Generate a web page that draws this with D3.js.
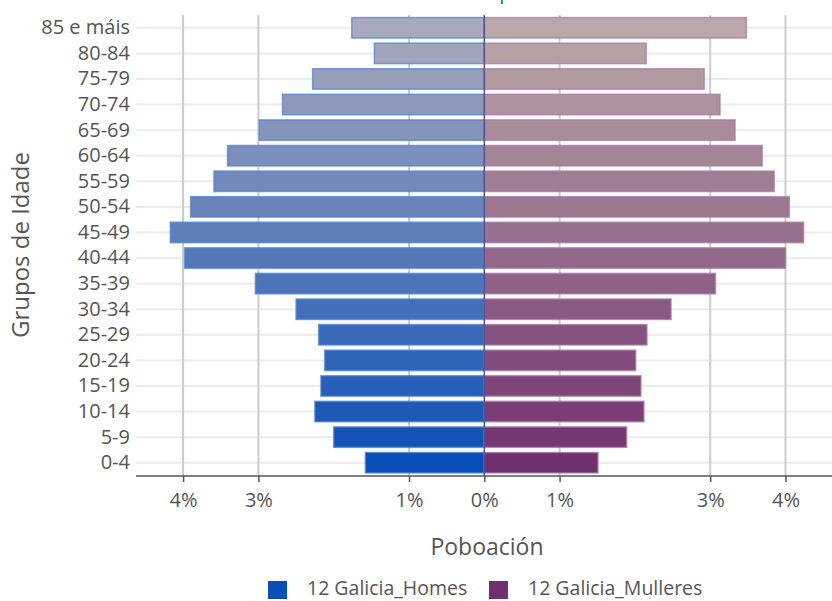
<!DOCTYPE html>
<html>
<head>
<meta charset="utf-8">
<script src="https://cdn.jsdelivr.net/npm/d3@7"></script>
<style>
  html, body { margin: 0; padding: 0; background: #fff; }
  svg { display: block; font-family: "Open Sans", sans-serif; }
</style>
</head>
<body>
<svg id="chart" width="832" height="601"></svg>
<script>
// Age groups, top to bottom
const ageGroups = ["85 e máis","80-84","75-79","70-74","65-69","60-64","55-59","50-54","45-49","40-44","35-39","30-34","25-29","20-24","15-19","10-14","5-9","0-4"];
// Percent of population
const homes    = [1.76,1.46,2.28,2.68,2.99,3.41,3.59,3.90,4.17,3.98,3.04,2.50,2.20,2.12,2.17,2.25,2.00,1.58];
const mulleres = [3.48,2.15,2.92,3.13,3.33,3.69,3.85,4.05,4.24,4.00,3.07,2.48,2.16,2.01,2.08,2.12,1.89,1.51];
const tickValues = [-4,-3,-1,0,1,3,4];
const seriesNames = ["12 Galicia_Homes","12 Galicia_Mulleres"];
const titleText = "Pirámide de poboación";

const svg = d3.select("#chart");
const plotLeft = 136, plotRight = 832, plotTop = 15, plotBottom = 476;

const x = d3.scaleLinear().domain([-4, 4]).range([484.3 - 4*75.3, 484.3 + 4*75.3]);
const y = d3.scaleBand().domain(ageGroups).range([plotTop, 475.5]).paddingInner(0.2).paddingOuter(0.1);

const maleColor = d3.interpolateRgb("#0a4fb6", "#aaa9bb");
const femaleColor = d3.interpolateRgb("#70306f", "#b9a8a7");
const n = ageGroups.length;
const tOf = g => (n - 1 - ageGroups.indexOf(g)) / (n - 1);

// clipped title above (only descenders visible, as in the reference)
svg.append("text").attr("x", 490).attr("y", -1).attr("text-anchor", "middle")
  .attr("font-size", 20).attr("fill", "#1f5fbf").text(titleText);

// horizontal gridlines at category centers
svg.append("g").selectAll("line").data(ageGroups).join("line")
  .attr("x1", plotLeft).attr("x2", plotRight)
  .attr("y1", d => y(d) + y.bandwidth()/2).attr("y2", d => y(d) + y.bandwidth()/2)
  .attr("stroke", "#ebebeb").attr("stroke-width", 2);

// vertical gridlines
svg.append("g").selectAll("line").data(tickValues.filter(v => v !== 0)).join("line")
  .attr("x1", d => x(d)).attr("x2", d => x(d))
  .attr("y1", plotTop).attr("y2", plotBottom)
  .attr("stroke", "#cccccc").attr("stroke-width", 2);

// bars
svg.append("g").selectAll("rect").data(ageGroups).join("rect")
  .attr("x", (d, i) => x(-homes[i])).attr("width", (d, i) => x(0) - x(-homes[i]))
  .attr("y", d => y(d)).attr("height", y.bandwidth())
  .attr("fill", d => maleColor(tOf(d)))
  .attr("stroke", "#4f86d4").attr("stroke-opacity", 0.75).attr("stroke-width", 1.5);

svg.append("g").selectAll("rect").data(ageGroups).join("rect")
  .attr("x", x(0)).attr("width", (d, i) => x(mulleres[i]) - x(0))
  .attr("y", d => y(d)).attr("height", y.bandwidth())
  .attr("fill", d => femaleColor(tOf(d)))
  .attr("stroke", "#a878aa").attr("stroke-opacity", 0.75).attr("stroke-width", 1.5);

// zero line
svg.append("line").attr("x1", x(0)).attr("x2", x(0)).attr("y1", plotTop).attr("y2", plotBottom)
  .attr("stroke", "#5a4f8c").attr("stroke-width", 1.5);

// x axis
const xAxis = d3.axisBottom(x).tickValues(tickValues).tickSize(6).tickPadding(11)
  .tickFormat(d => Math.abs(d) + "%");
const gx = svg.append("g").attr("transform", `translate(0,${plotBottom})`).call(xAxis);
gx.select(".domain").remove();
gx.append("line").attr("x1", plotLeft).attr("x2", plotRight).attr("stroke", "#555").attr("stroke-width", 1.5);
gx.selectAll(".tick line").attr("stroke", "#555").attr("stroke-width", 1.5);
gx.selectAll(".tick text").attr("font-size", 20).attr("fill", "#555").attr("font-family", "Open Sans");

// y axis labels
const yAxis = d3.axisLeft(y).tickSize(0).tickPadding(6);
const gy = svg.append("g").attr("transform", `translate(${plotLeft},0)`).call(yAxis);
gy.select(".domain").remove();
gy.selectAll(".tick text").attr("font-size", 20).attr("fill", "#555").attr("font-family", "Open Sans");

// axis titles
svg.append("text").attr("x", 487).attr("y", 555).attr("text-anchor", "middle")
  .attr("font-size", 23).attr("fill", "#555").text("Poboación");
svg.append("text").attr("transform", "translate(29,245) rotate(-90)").attr("text-anchor", "middle")
  .attr("font-size", 24).attr("fill", "#555").text("Grupos de Idade");

// legend
const legend = svg.append("g");
const legendItems = [
  {name: seriesNames[0], color: "#0a4fb6", x: 268},
  {name: seriesNames[1], color: "#70306f", x: 489}
];
legendItems.forEach(it => {
  legend.append("rect").attr("x", it.x).attr("y", 581).attr("width", 19).attr("height", 18).attr("fill", it.color);
  legend.append("text").attr("x", it.x + 39).attr("y", 595).attr("font-size", 19.5).attr("fill", "#555").text(it.name);
});
</script>
</body>
</html>
